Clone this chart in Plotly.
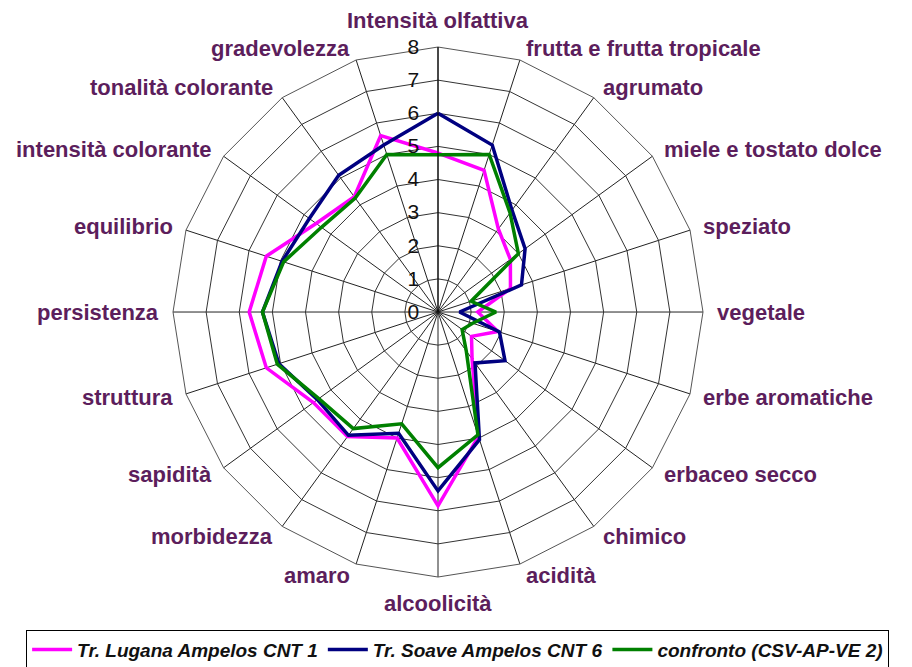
import math
import plotly.graph_objects as go

categories = [
    "Intensità olfattiva", "frutta e frutta tropicale", "agrumato",
    "miele e tostato dolce", "speziato", "vegetale", "erbe aromatiche",
    "erbaceo secco", "chimico", "acidità", "alcoolicità", "amaro",
    "morbidezza", "sapidità", "struttura", "persistenza", "equilibrio",
    "intensità colorante", "tonalità colorante", "gradevolezza",
]

lugana = [4.8, 4.5, 3.1, 2.7, 2.3, 1.2, 1.9, 1.25, 1.75, 3.95,
          5.85, 4.0, 4.65, 4.65, 5.45, 5.7, 5.45, 4.55, 4.3, 5.6]
soave = [6.0, 5.3, 3.8, 3.25, 2.65, 0.65, 1.95, 2.5, 1.9, 4.05,
         5.4, 3.85, 4.6, 4.5, 5.05, 5.3, 4.95, 4.8, 5.1, 5.3]
confronto = [4.75, 5.0, 3.7, 3.0, 1.05, 1.75, 1.1, 0.9, 1.45, 3.9,
             4.7, 3.55, 4.35, 4.45, 5.1, 5.3, 4.9, 4.35, 4.25, 5.0]

series_names = ["Tr. Lugana Ampelos CNT 1", "Tr. Soave Ampelos CNT 6",
                "confronto (CSV-AP-VE 2)"]
series_values = [lugana, soave, confronto]
series_colors = ["#ff00ff", "#000080", "#008000"]

tick_values = [0, 1, 2, 3, 4, 5, 6, 7, 8]

W, H = 912, 667
dom_x = [0.1809, 0.7621]
dom_y = [0.1469, 0.9415]

fig = go.Figure()
for name, vals, col in zip(series_names, series_values, series_colors):
    fig.add_trace(go.Scatterpolar(
        r=vals + vals[:1],
        theta=categories + categories[:1],
        mode="lines",
        name=name,
        line=dict(color=col, width=3.5),
    ))

# category labels placed just outside the outer ring (Excel-like anchoring)
cx = (dom_x[0] + dom_x[1]) / 2
cy = (dom_y[0] + dom_y[1]) / 2
rx = (dom_x[1] - dom_x[0]) / 2
ry = (dom_y[1] - dom_y[0]) / 2
pad_px = 12
label_font = dict(family="Liberation Sans, Arial, sans-serif", size=22,
                  color="#5c1e5c", weight="bold")
annotations = []
n = len(categories)
for i, cat in enumerate(categories):
    th = 2 * math.pi * i / n
    s, c = math.sin(th), math.cos(th)
    x = cx + (rx + pad_px / W) * s
    y = cy + (ry + pad_px / H) * c
    if abs(s) < 0.05:
        xa = "center"
        ya = "bottom" if c > 0 else "top"
    else:
        xa = "left" if s > 0 else "right"
        ya = "middle"
    annotations.append(dict(
        x=x, y=y, xref="paper", yref="paper", text=cat, showarrow=False,
        xanchor=xa, yanchor=ya, font=label_font,
    ))

fig.update_layout(
    width=W, height=H,
    paper_bgcolor="white",
    plot_bgcolor="white",
    margin=dict(l=0, r=0, t=0, b=0),
    showlegend=True,
    annotations=annotations,
    polar=dict(
        domain=dict(x=dom_x, y=dom_y),
        bgcolor="white",
        gridshape="linear",
        angularaxis=dict(
            direction="clockwise",
            rotation=90,
            showline=True,
            linecolor="#555555",
            linewidth=1,
            gridcolor="#222222",
            gridwidth=1,
            showticklabels=False,
            ticks="",
        ),
        radialaxis=dict(
            range=[0, 8],
            angle=90,
            tickangle=90,
            tickvals=tick_values,
            ticktext=[str(v) for v in tick_values],
            showline=True,
            linecolor="#000000",
            linewidth=1,
            gridcolor="#333333",
            gridwidth=1,
            ticks="outside",
            ticklen=11,
            tickcolor="rgba(0,0,0,0)",
            side="counterclockwise",
            tickfont=dict(family="Liberation Sans, Arial, sans-serif",
                          size=21, color="#111111"),
        ),
    ),
    legend=dict(
        orientation="h",
        x=0.493, xanchor="center",
        y=0.008, yanchor="bottom",
        bordercolor="#000000",
        borderwidth=1,
        bgcolor="white",
        font=dict(family="Liberation Sans, Arial, sans-serif",
                  size=19, color="#111111", style="italic", weight="bold"),
        itemwidth=40,
    ),
)

fig.write_html("out.html")
